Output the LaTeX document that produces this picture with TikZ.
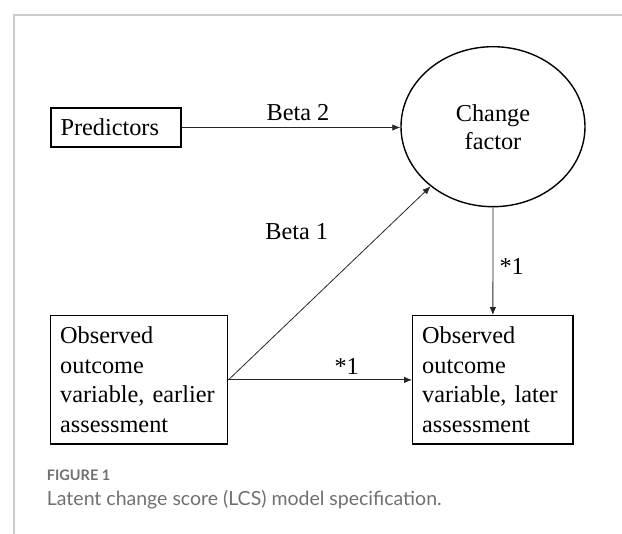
\documentclass[tikz,border=0pt]{standalone}
\usepackage{fontspec}
\setmainfont{Liberation Serif}
\newfontfamily\capfont{Lato}
\usetikzlibrary{arrows.meta,shapes.geometric}
\definecolor{framegray}{HTML}{CCCCCC}
\definecolor{capgray}{HTML}{707070}
\tikzset{
  diag/.style={font=\fontsize{24.3}{29.5}\selectfont},
  boxnode/.style={diag, draw=black, line width=1.4pt, rectangle, inner xsep=9.5pt, inner ysep=0pt, align=left},
  ovalnode/.style={diag, draw=black, line width=1.4pt, ellipse, minimum width=184pt, minimum height=160pt, inner sep=0pt, align=center, font=\fontsize{24.3}{28}\selectfont},
  arr/.style={draw=black!85, line width=0.8pt, -{Latex[length=8pt,width=6.5pt]}},
  lbl/.style={diag, inner sep=0pt},
  framestyle/.style={draw=framegray, line width=1.6pt}
}
\begin{document}
\begin{tikzpicture}[x=1pt,y=-1pt]
\useasboundingbox (0,0) rectangle (622,534);
% frame
\draw[framestyle] (14,534) -- (14,15) -- (622,15);
% nodes
\node[boxnode, text width=111pt, minimum height=39pt] (pred) at (116,127.5) {Predictors};
\node[ovalnode] (cf) at (493,126.7) {Change\\factor};
\node[boxnode, text width=158pt, minimum height=128.3pt] (early) at (139.2,379.9) {Observed\\outcome\\variable, earlier\\assessment};
\node[boxnode, text width=141.3pt, minimum height=128.3pt] (late) at (492.85,379.9) {Observed\\outcome\\variable, later\\assessment};
% connectors
\draw[arr] (pred.east) -- (cf.west |- pred.east);
\draw[arr] (early.east) -- (cf);
\draw[arr] (early.east) -- (late.west);
\draw[arr] (cf.south) -- (late.north);
% labels
\node[lbl] (b2) at (298,113) {Beta 2};
\node[lbl] (b1) at (296.7,231.7) {Beta 1};
\node[lbl] (s1h) at (346.7,366.7) {*1};
\node[lbl] (s1v) at (511.7,266.7) {*1};
% caption
\node[anchor=west, inner sep=0pt, text=capgray, font=\capfont\bfseries\fontsize{14.5}{16}\selectfont] (fig) at (46.7,475) {FIGURE 1};
\node[anchor=west, inner sep=0pt, text=capgray, font=\capfont\fontsize{19.5}{22}\selectfont] (cap) at (46.7,500) {Latent change score (LCS) model specification.};
\end{tikzpicture}
\end{document}
